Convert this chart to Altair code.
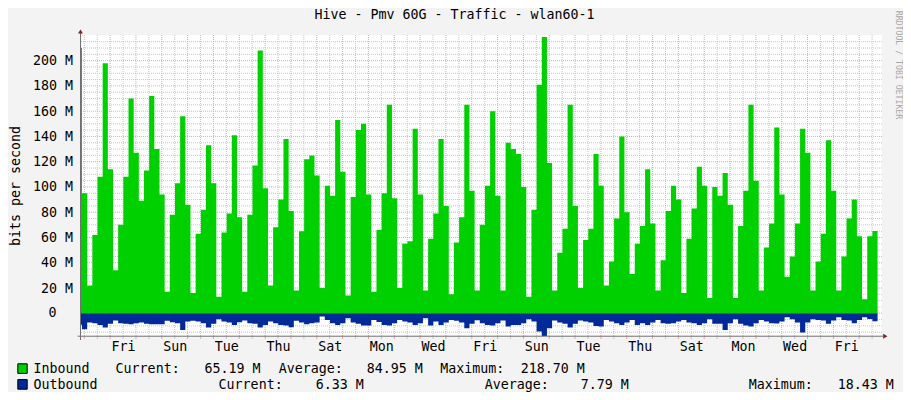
import json
import altair as alt
import pandas as pd

# ---------------- data ----------------
TITLE = "Hive - Pmv 60G - Traffic - wlan60-1"
Y_TITLE = "bits per second"
CREDIT = "RRDTOOL / TOBI OETIKER"
DAY_LABELS = ["Fri", "Sun", "Tue", "Thu", "Sat", "Mon", "Wed", "Fri",
              "Sun", "Tue", "Thu", "Sat", "Mon", "Wed", "Fri"]
Y_TICKS = [0, 20, 40, 60, 80, 100, 120, 140, 160, 180, 200]

# samples: hours from the first Thursday 00:00, one sample every 4.8 h
SAMPLE_START_H = -6.94
SAMPLE_STEP_H = 4.8

INBOUND_M = [
    210,
    95, 22, 62, 108, 198, 114, 34, 70, 108, 170, 127, 89, 113, 172, 130, 94, 17, 78, 103,
    156, 86, 16, 63, 82, 133, 103, 13, 64, 79, 141, 76, 17, 78, 117, 208, 99, 22, 68,
    90, 138, 81, 18, 65, 122, 125, 109, 20, 101, 93, 153, 112, 14, 92, 145, 150, 94, 17, 66,
    95, 165, 91, 20, 55, 57, 146, 94, 18, 59, 79, 138, 85, 15, 56, 76, 165, 97, 18,
    70, 101, 160, 93, 18, 135, 130, 126, 100, 13, 82, 181, 218.7, 119, 18, 48, 67, 165, 85, 20,
    58, 67, 126, 101, 22, 41, 75, 140, 80, 31, 55, 69, 114, 71, 18, 42, 81, 101, 90,
    16, 59, 83, 116, 101, 12, 100, 93, 111, 86, 12, 69, 97, 165, 105, 18, 52, 71, 147,
    94, 29, 45, 71, 146, 127, 18, 41, 63, 137, 97, 18, 45, 75, 90, 61, 11, 61, 65.19,
]
OUTBOUND_M = [
    9.0,
    12.6, 7.4, 7.9, 9.2, 11.3, 8.4, 5.8, 7.9, 8.4, 8.7, 7.9, 7.4, 8.4, 8.7, 8.7, 8.7, 6.0, 7.1, 7.9,
    13.2, 6.6, 6.0, 6.6, 7.9, 11.3, 8.4, 4.7, 6.6, 7.4, 9.2, 7.1, 5.8, 7.9, 8.4, 11.3, 9.2, 6.6, 7.9,
    9.2, 9.7, 11.0, 6.0, 7.4, 8.7, 7.9, 7.4, 2.6, 5.3, 7.9, 9.2, 7.9, 3.9, 7.4, 8.4, 9.7, 9.7, 5.3, 7.0,
    9.2, 9.7, 7.9, 5.3, 6.6, 7.4, 9.2, 7.9, 3.9, 9.7, 6.6, 9.2, 7.4, 5.3, 6.0, 7.4, 11.8, 8.4, 5.5,
    7.9, 9.2, 9.7, 7.9, 5.8, 10.5, 9.2, 9.2, 7.9, 4.7, 6.6, 14.5, 18.43, 11.8, 5.8, 7.4, 8.4, 11.3, 8.4, 5.8,
    6.6, 7.4, 10.0, 10.5, 5.3, 6.6, 7.9, 9.2, 7.4, 5.3, 9.2, 7.9, 9.2, 7.4, 5.3, 7.9, 8.4, 7.9, 6.6,
    5.3, 7.4, 7.9, 9.2, 7.9, 4.7, 8.4, 8.4, 13.2, 7.9, 4.7, 8.4, 9.7, 10.5, 7.9, 5.3, 6.6, 7.9, 8.2,
    6.6, 3.2, 4.7, 7.4, 15.3, 7.4, 4.7, 5.3, 5.8, 8.4, 5.8, 3.2, 5.3, 5.8, 7.9, 5.3, 3.2, 4.5, 6.33,
]

SERIES_NAMES = ["Inbound", "Outbound"]
SERIES_COLORS = ["#00CF00", "#002A97"]
STAT_LABELS = ["Current:", "Average:", "Maximum:"]
INBOUND_STATS = ["65.19 M", "84.95 M", "218.70 M"]
OUTBOUND_STATS = ["6.33 M", "7.79 M", "18.43 M"]

# ---------------- styling ----------------
FONT = "DejaVu Sans Mono"
FS = 13.3
BG = "#F3F3F3"
MAJOR = "#EFA3A3"
MINOR = "#C6C6C6"
AXIS_COL = "#707070"
ARROW_COL = "#801F1F"
W, H = 801, 301

n = len(INBOUND_M)
times = [SAMPLE_START_H + i * SAMPLE_STEP_H for i in range(n + 1)]
df = pd.DataFrame({
    "t": times,
    "inb": INBOUND_M + [INBOUND_M[-1]],
    "outb": [-v for v in OUTBOUND_M] + [-OUTBOUND_M[-1]],
})

xs = alt.Scale(domain=[-3.07, 741.18], nice=False, zero=False)
ys = alt.Scale(domain=[-18.0, 220.3], nice=False, zero=False)

tick_vals = [36 + 48 * i for i in range(len(DAY_LABELS))]
x_axis = alt.Axis(values=tick_vals,
                  labelExpr=json.dumps(DAY_LABELS) + "[round((datum.value - 36) / 48)]",
                  domain=False, ticks=False, grid=False, title=None,
                  labelFont=FONT, labelFontSize=FS, labelColor="#000000",
                  labelPadding=14.7, labelBaseline="alphabetic", labelAngle=0,
                  labelFlush=False, labelOverlap=False)
# the "0" label is drawn separately (it sits two character cells further left)
y_axis = alt.Axis(values=Y_TICKS,
                  labelExpr="datum.value == 0 ? '' : datum.value + ' M'",
                  domain=False, ticks=False, grid=False, title=None,
                  labelFont=FONT, labelFontSize=FS, labelColor="#000000",
                  labelPadding=8.5, labelBaseline="middle",
                  labelFlush=False, labelOverlap=False)

major_v = pd.DataFrame({"t": [24 * d for d in range(31)]})
minor_v = pd.DataFrame({"t": [24 * d + 12 for d in range(31)]})
major_h = pd.DataFrame({"v": list(range(0, 201, 20))})
minor_h = pd.DataFrame({"v": [v for v in range(-15, 220, 5) if v % 20 != 0]})

ONE = alt.Data(values=[{"a": 1}])


def vgrid(data, color):
    return alt.Chart(data).mark_rule(color=color, strokeWidth=1, strokeDash=[1, 1]).encode(
        x=alt.X("t:Q", scale=xs, axis=x_axis))


def hgrid(data, color):
    return alt.Chart(data).mark_rule(color=color, strokeWidth=1, strokeDash=[1, 1]).encode(
        y=alt.Y("v:Q", scale=ys, axis=y_axis))


def vticks(data, color):
    return alt.Chart(data).mark_rule(color=color, strokeWidth=1).encode(
        x=alt.X("t:Q", scale=xs, axis=x_axis), y=alt.value(301), y2=alt.value(304))


def txt(s, x, y, size=FS, align="left", baseline="alphabetic", angle=0, color="#000000"):
    kw = dict(text=s, font=FONT, fontSize=size, align=align, baseline=baseline, color=color)
    if angle:
        kw["angle"] = angle
    return alt.Chart(ONE).mark_text(**kw).encode(x=alt.value(x), y=alt.value(y))


def rule(x, y, x2=None, y2=None):
    enc = dict(x=alt.value(x), y=alt.value(y))
    if x2 is not None:
        enc["x2"] = alt.value(x2)
    if y2 is not None:
        enc["y2"] = alt.value(y2)
    return alt.Chart(ONE).mark_rule(color=AXIS_COL, strokeWidth=1).encode(**enc)


def arrow(shape, x, y):
    return alt.Chart(ONE).mark_point(shape=shape, filled=True, size=24, color=ARROW_COL,
                                     opacity=1).encode(x=alt.value(x), y=alt.value(y))


def swatch(color, y0):
    return alt.Chart(ONE).mark_rect(fill=color, stroke="#000000", strokeWidth=1).encode(
        x=alt.value(-63.2), x2=alt.value(-53.8), y=alt.value(y0), y2=alt.value(y0 + 9.6))


inbound = alt.Chart(df).mark_area(interpolate="step-after", color=SERIES_COLORS[0],
                                  opacity=1, clip=True).encode(
    x=alt.X("t:Q", scale=xs, axis=x_axis),
    y=alt.Y("inb:Q", scale=ys, axis=y_axis),
    y2=alt.datum(0))
outbound = alt.Chart(df).mark_area(interpolate="step-after", color=SERIES_COLORS[1],
                                   opacity=1, clip=True).encode(
    x=alt.X("t:Q", scale=xs, axis=x_axis),
    y=alt.Y("outb:Q", scale=ys, axis=y_axis),
    y2=alt.datum(0))

zero_label = alt.Chart(ONE).mark_text(text=str(Y_TICKS[0]), font=FONT, fontSize=FS,
                                      align="right", baseline="middle", color="#000000").encode(
    x=alt.value(-24.5),
    y=alt.YDatum(Y_TICKS[0], scale=ys, axis=y_axis))

layers = [
    vgrid(minor_v, MINOR), hgrid(minor_h, MINOR),
    vgrid(major_v, MAJOR), hgrid(major_h, MAJOR),
    vticks(minor_v, MINOR), vticks(major_v, MAJOR),
    inbound, outbound,
    rule(-0.5, -2, y2=305), rule(-3.3, 301.2, x2=802),
    arrow("triangle-up", -0.5, -3.5), arrow("triangle-right", 804.3, 301.2),
    zero_label,
    txt(TITLE, 373.5, -16, align="center"),
    txt(Y_TITLE, -61.5, 151, align="center", angle=270),
    txt(CREDIT, 814.5, 30, size=8.2, align="center", angle=90, color="#A8A8A8"),
    swatch(SERIES_COLORS[0], 328.8), swatch(SERIES_COLORS[1], 344.6),
    # legend line 1
    txt(SERIES_NAMES[0], -47.5, 338),
    txt(STAT_LABELS[0], 34.6, 338), txt(INBOUND_STATS[0], 179.5, 338, align="right"),
    txt(STAT_LABELS[1], 197.8, 338), txt(INBOUND_STATS[1], 341.8, 338, align="right"),
    txt(STAT_LABELS[2], 359.2, 338), txt(INBOUND_STATS[2], 503.8, 338, align="right"),
    # legend line 2
    txt(SERIES_NAMES[1], -47.5, 354),
    txt(STAT_LABELS[0], 137.6, 354), txt(OUTBOUND_STATS[0], 282.8, 354, align="right"),
    txt(STAT_LABELS[1], 403.8, 354), txt(OUTBOUND_STATS[1], 547.8, 354, align="right"),
    txt(STAT_LABELS[2], 667.8, 354), txt(OUTBOUND_STATS[2], 812.8, 354, align="right"),
]

chart = alt.layer(*layers).properties(
    width=W, height=H,
    autosize=alt.AutoSizeParams(type="none"),
    padding={"left": 73, "top": 27, "right": 21, "bottom": 56},
    background=BG,
).configure_view(fill="#FFFFFF", strokeWidth=0)

chart.save("out.html", embed_options={"renderer": "svg", "actions": False})
